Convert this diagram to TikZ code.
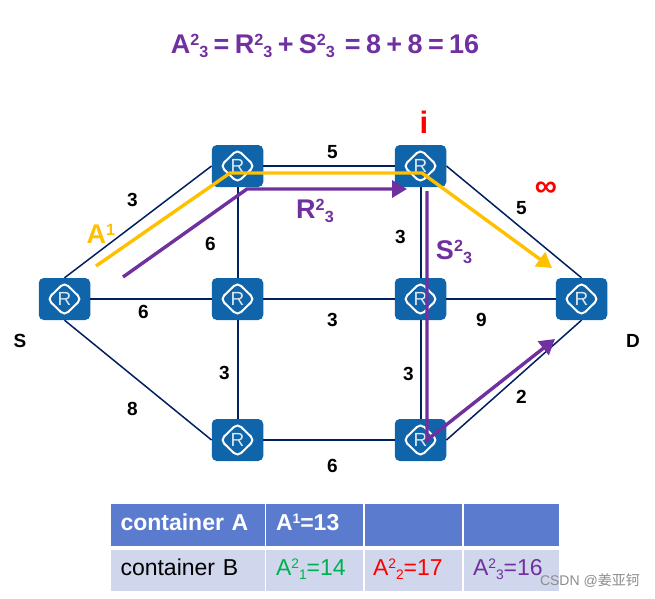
\documentclass[tikz,border=0pt]{standalone}
\usepackage{fontspec}
\setmainfont{Liberation Sans}
\newfontfamily\cjkfont{Noto Sans CJK SC}
\usetikzlibrary{arrows.meta}
\definecolor{routerblue}{HTML}{1064A9}
\definecolor{linkblue}{HTML}{002060}
\definecolor{pathyellow}{HTML}{FFC000}
\definecolor{pathpurple}{HTML}{7030A0}
\definecolor{headblue}{HTML}{5A7BCE}
\definecolor{rowblue}{HTML}{D0D6EB}
\definecolor{pathgreen}{HTML}{00B050}
% upper and lower indices in the current font
\newcommand{\upidx}[1]{\raisebox{.3em}{\scalebox{.6}{#1}}}
\newcommand{\dnidx}[1]{\raisebox{-.16em}{\scalebox{.6}{#1}}}
\begin{document}
\begin{tikzpicture}[
  x=1pt, y=-1pt,
  router/.style={
    rectangle, rounded corners=5pt, fill=routerblue, text=white!85!routerblue,
    minimum width=51.5pt, minimum height=42pt, inner sep=0pt,
    font=\fontsize{19}{19}\selectfont,
    path picture={
      \draw[white, line width=2pt] (path picture bounding box.center)
        +(-17pt,0) -- +(0,-16.5pt) -- +(17pt,0) -- +(0,16.5pt) -- cycle;
    }
  },
  link/.style={linkblue, line width=2pt},
  slantlink/.style={linkblue, line width=1.5pt},
  weight/.style={font=\fontsize{19}{19}\selectfont\bfseries, inner sep=0pt},
  pathlabel/.style={font=\fontsize{27}{27}\selectfont\bfseries, inner sep=0pt},
  redlabel/.style={font=\fontsize{31}{31}\selectfont\bfseries, text=red, inner sep=0pt},
  yellowpath/.style={pathyellow, line width=3.4pt},
  purplepath/.style={pathpurple, line width=3.4pt},
  tip/.style={-{Triangle[length=15pt,width=17pt]}},
  headcell/.style={
    rectangle, fill=headblue, text=white, inner xsep=0pt, inner ysep=0pt,
    minimum height=42pt, text height=16pt, text depth=6pt,
    font=\fontsize{23}{23}\selectfont\bfseries
  },
  bodycell/.style={
    rectangle, fill=rowblue, inner xsep=0pt, inner ysep=0pt,
    minimum height=41pt, text height=16pt, text depth=6pt,
    font=\fontsize{23}{23}\selectfont
  },
]
\useasboundingbox (0,0) rectangle (655,598);

% Routers
\node[router] (s) at (64.5,299) {R};
\node[router] (a) at (237.5,166) {R};
\node[router] (i) at (420.5,166) {R};
\node[router] (b) at (237.5,299) {R};
\node[router] (c) at (420.5,299) {R};
\node[router] (d) at (581.5,299) {R};
\node[router] (e) at (237.5,440) {R};
\node[router] (f) at (420.5,440) {R};

% Links
\draw[slantlink] (s.north) -- (a.west);
\draw[link] (a.east) -- (i.west);
\draw[slantlink] (i.east) -- (d.north);
\draw[link] (s.east) -- (b.west);
\draw[link] (b.east) -- (c.west);
\draw[link] (c.east) -- (d.west);
\draw[link] (a.south) -- (b.north);
\draw[link] (i.south) -- (c.north);
\draw[link] (b.south) -- (e.north);
\draw[link] (c.south) -- (f.north);
\draw[slantlink] (s.south) -- (e.west);
\draw[link] (e.east) -- (f.west);
\draw[slantlink] (f.east) -- (d.south);

% Link weights
\foreach \name/\x/\y/\w in {wa/132.5/199.5/3, wb/332.5/152.5/5, wc/210.5/243.5/6, wd/400.5/236.5/3,
    we/521.5/208.5/5, wf/143.5/311.5/6, wg/332.5/319.5/3, wh/481.5/319.5/9, wi/224.5/372.5/3,
    wj/408.5/373.5/3, wk/132.5/408.5/8, wl/521.5/396.5/2, wm/332.5/465.5/6} {
  \node[weight] (\name) at (\x,\y) {\w};
}
\node[weight] (lbls) at (20,341) {S};
\node[weight] (lbld) at (633,341) {D};
\node[redlabel] (lbli) at (424,122) {i};
\node[redlabel] (lblinf) at (546,189) {∞};

% Paths
\coordinate (ya) at (96,266);
\coordinate (yb) at (230,173);
\coordinate (yc) at (422,173);
\coordinate (yd) at (552,268);
\draw[yellowpath, tip] (ya) -- (yb) -- (yc) -- (yd);
\coordinate (ra) at (123,277);
\coordinate (rb) at (247,189);
\coordinate (rc) at (407,189);
\draw[purplepath, tip] (ra) -- (rb) -- (rc);
\coordinate (sa) at (427,191);
\coordinate (sb) at (427,440);
\coordinate (sc) at (555,339);
\draw[purplepath, tip] (sa) -- (sb) -- (sc);

% Path labels
\node[pathlabel, text=pathyellow] (lbla) at (101,234) {A\upidx{1}};
\node[pathlabel, text=pathpurple] (lblr) at (315,211) {R\upidx{2}\dnidx{3}};
\node[pathlabel, text=pathpurple] (lblt) at (454,252) {S\upidx{2}\dnidx{3}};
\node[pathlabel, text=pathpurple] (title) at (325,46)
  {\spaceskip=.2em A\upidx{2}\dnidx{3} = R\upidx{2}\dnidx{3} + S\upidx{2}\dnidx{3} \,= 8 + 8 = 16};

% Table
\node[headcell, minimum width=154pt, text width=134pt] (ha) at (187.5,525) {container A};
\node[headcell, minimum width=97pt, text width=77pt] (hb) at (314.5,525) {A\upidx{1}=13};
\node[headcell, minimum width=97pt] (hc) at (413.5,525) {};
\node[headcell, minimum width=95pt] (hd) at (511.5,525) {};
\node[bodycell, minimum width=154pt, text width=134pt] (ba) at (187.5,570.5) {container B};
\node[bodycell, minimum width=97pt, text width=77pt, text=pathgreen] (bb) at (314.5,570.5) {A\upidx{2}\dnidx{1}=14};
\node[bodycell, minimum width=97pt, text width=81pt, text=red] (bc) at (413.5,570.5) {A\upidx{2}\dnidx{2}=17};
\node[bodycell, minimum width=95pt, text width=77pt, text=pathpurple] (bd) at (511.5,570.5) {A\upidx{2}\dnidx{3}=16};

% Watermark
\node[font=\fontsize{14}{14}\selectfont, text=black!45, inner sep=0pt, anchor=east] (mark) at (640,581) {CSDN @{\cjkfont 姜亚钶}};

\end{tikzpicture}
\end{document}
